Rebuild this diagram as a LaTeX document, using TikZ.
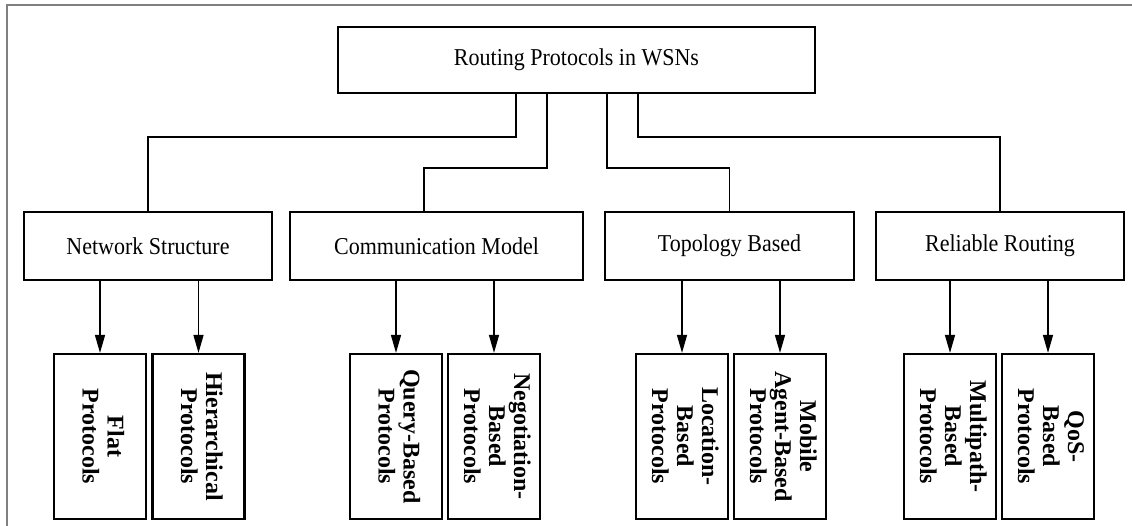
\documentclass[tikz,border=0pt]{standalone}
\usepackage{fontspec}
\usepackage{graphicx}
\setmainfont{Liberation Serif}
\usetikzlibrary{arrows.meta}
\newcommand\vlabel[1]{\rotatebox{-90}{\begin{tabular}{@{}c@{}}#1\end{tabular}}}
\newcommand\hlabel[1]{\scalebox{1}[1.1]{#1}}
\begin{document}
\begin{tikzpicture}[x=1pt,y=-1pt]
\tikzset{
  boxstyle/.style={draw=black, line width=2.2pt, inner sep=0pt, font=\fontsize{22}{24}\selectfont},
  leaf/.style={draw=black, line width=2.2pt, inner sep=0pt, minimum width=92pt, minimum height=165pt, font=\fontsize{24}{25}\selectfont\bfseries},
  link/.style={line width=1.6pt},
  arr/.style={line width=1.4pt, -{Triangle[length=18pt,width=10pt]}},
  frameline/.style={draw=gray, line width=1.5pt}
}
\useasboundingbox (0,0) rectangle (1132,526);
\draw[frameline] (7,526) -- (7,5) -- (1132,5);

\node[boxstyle, minimum width=477pt, minimum height=66pt] (root) at (576.5,60) {\hlabel{Routing Protocols in WSNs}};

\node[boxstyle, minimum width=248pt, minimum height=68pt] (ns) at (148,246) {\hlabel{Network Structure}};
\node[boxstyle, minimum width=293pt, minimum height=68pt] (cm) at (436.5,246) {\hlabel{Communication Model}};
\node[boxstyle, minimum width=249pt, minimum height=68pt] (tb) at (729.5,246) {\hlabel{Topology Based}};
\node[boxstyle, minimum width=248pt, minimum height=68pt] (rr) at (1000,246) {\hlabel{Reliable Routing}};

\node[leaf] (flat) at (100,436.5) {\vlabel{Flat\\Protocols}};
\node[leaf] (hier) at (198.5,436.5) {\vlabel{Hierarchical\\Protocols}};
\node[leaf] (query) at (396,436.5) {\vlabel{Query-Based\\Protocols}};
\node[leaf] (nego) at (494,436.5) {\vlabel{Negotiation-\\Based\\Protocols}};
\node[leaf] (loc) at (682,436.5) {\vlabel{Location-\\Based\\Protocols}};
\node[leaf] (mob) at (780,436.5) {\vlabel{Mobile\\Agent-Based\\Protocols}};
\node[leaf] (multi) at (950,436.5) {\vlabel{Multipath-\\Based\\Protocols}};
\node[leaf] (qos) at (1048,436.5) {\vlabel{QoS-\\Based\\Protocols}};

\coordinate (c1) at (516,137);
\coordinate (c2) at (547,168);
\coordinate (c3) at (607,168);
\coordinate (c4) at (638,137);
\coordinate (cmin) at (424,212);

\draw[link] (root.south -| c1) -- (c1) -| (ns.north);
\draw[link] (root.south -| c2) -- (c2) -| (cmin);
\draw[link] (root.south -| c3) -- (c3) -| (tb.north);
\draw[link] (root.south -| c4) -- (c4) -| (rr.north);

\draw[arr] (ns.south -| flat.north) -- (flat.north);
\draw[arr] (ns.south -| hier.north) -- (hier.north);
\draw[arr] (cm.south -| query.north) -- (query.north);
\draw[arr] (cm.south -| nego.north) -- (nego.north);
\draw[arr] (tb.south -| loc.north) -- (loc.north);
\draw[arr] (tb.south -| mob.north) -- (mob.north);
\draw[arr] (rr.south -| multi.north) -- (multi.north);
\draw[arr] (rr.south -| qos.north) -- (qos.north);
\end{tikzpicture}
\end{document}
